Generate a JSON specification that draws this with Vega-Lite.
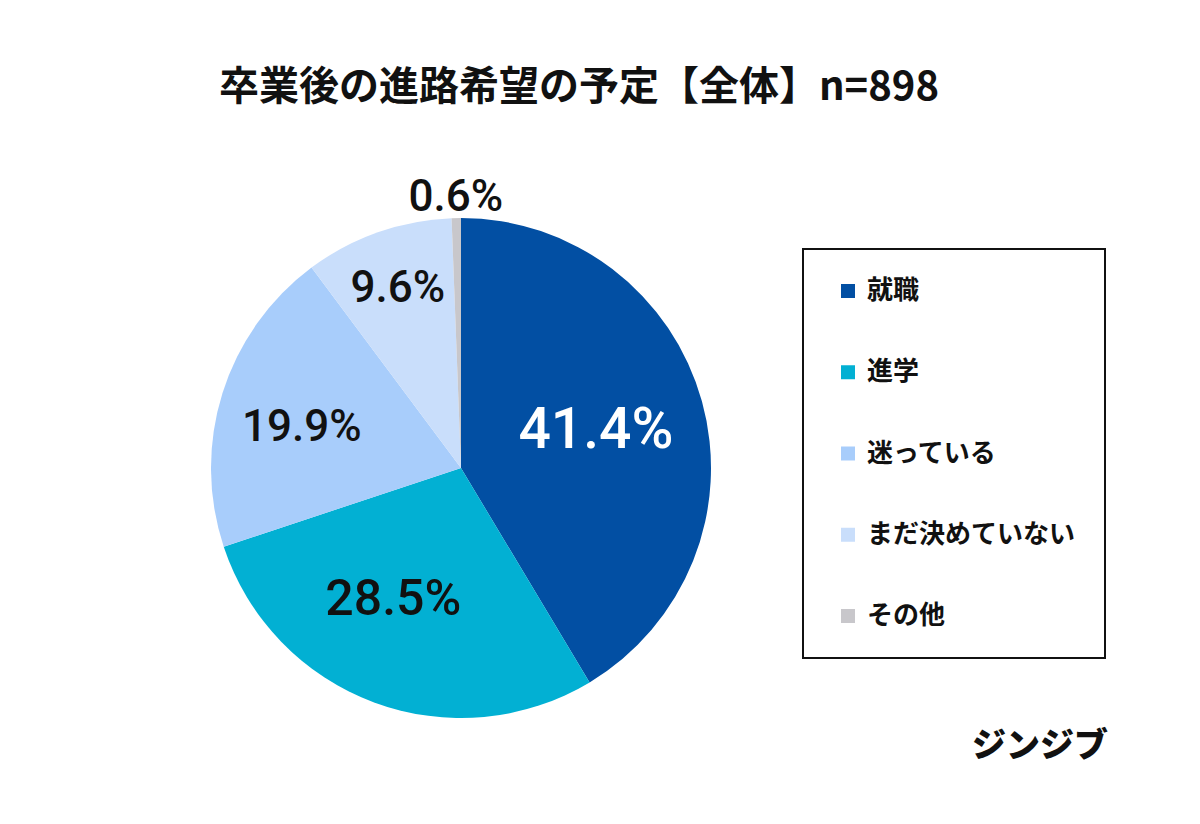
{
  "$schema": "https://vega.github.io/schema/vega-lite/v6.json",
  "width": 500,
  "height": 500,
  "autosize": {"type": "none"},
  "padding": {"left": 211, "top": 218, "right": 489, "bottom": 106},
  "background": "white",
  "title": {
    "text": "卒業後の進路希望の予定【全体】n=898",
    "font": "Noto Sans CJK JP",
    "fontSize": 40,
    "fontWeight": "bold",
    "color": "#111111",
    "anchor": "middle",
    "dx": 118,
    "offset": 68
  },
  "config": {
    "view": {"stroke": null},
    "legend": {
      "orient": "none",
      "legendX": 592,
      "legendY": 31,
      "direction": "vertical",
      "symbolType": "square",
      "symbolSize": 196,
      "symbolStrokeWidth": 0,
      "labelFont": "Noto Sans CJK JP",
      "labelFontSize": 26,
      "labelFontWeight": "bold",
      "labelColor": "#111111",
      "labelOffset": 6,
      "labelLimit": 400,
      "strokeColor": "#111111",
      "strokeWidth": 2,
      "fillColor": "white",
      "padding": 29,
      "symbolOffset": 3,
      "rowPadding": 55.25
    }
  },
  "datasets": {
    "pie": [
      {"cat": "就職", "value": 41.4, "label": "41.4%", "order": 1},
      {"cat": "進学", "value": 28.5, "label": "28.5%", "order": 2},
      {"cat": "迷っている", "value": 19.9, "label": "19.9%", "order": 3},
      {"cat": "まだ決めていない", "value": 9.6, "label": "9.6%", "order": 4},
      {"cat": "その他", "value": 0.6, "label": "0.6%", "order": 5}
    ],
    "brand": [{"t": "ジンジブ"}]
  },
  "layer": [
    {
      "data": {"name": "pie"},
      "mark": {"type": "arc", "outerRadius": 250},
      "encoding": {
        "theta": {"field": "value", "type": "quantitative", "stack": true},
        "order": {"field": "order", "type": "quantitative"},
        "color": {
          "field": "cat",
          "type": "nominal",
          "title": null,
          "scale": {
            "domain": ["就職", "進学", "迷っている", "まだ決めていない", "その他"],
            "range": ["#024FA3", "#02B0D3", "#A8CDFB", "#C9DEFB", "#C8C7CB"]
          }
        }
      }
    },
    {
      "data": {"name": "pie"},
      "mark": {"type": "text", "font": "Roboto", "fontWeight": 500, "fontSize": 57, "radius": 140, "color": "white"},
      "encoding": {
        "theta": {"field": "value", "type": "quantitative", "stack": true},
        "order": {"field": "order", "type": "quantitative"},
        "text": {"condition": {"test": "datum.order !== 1", "value": ""}, "field": "label", "type": "nominal"}
      }
    },
    {
      "data": {"name": "pie"},
      "mark": {"type": "text", "font": "Roboto", "fontWeight": 500, "fontSize": 50, "radius": 148, "thetaOffset": 0.12, "color": "#111111"},
      "encoding": {
        "theta": {"field": "value", "type": "quantitative", "stack": true},
        "order": {"field": "order", "type": "quantitative"},
        "text": {"condition": {"test": "datum.order !== 2", "value": ""}, "field": "label", "type": "nominal"}
      }
    },
    {
      "data": {"name": "pie"},
      "mark": {"type": "text", "font": "Roboto", "fontWeight": 500, "fontSize": 44, "radius": 164, "thetaOffset": -0.06, "color": "#111111"},
      "encoding": {
        "theta": {"field": "value", "type": "quantitative", "stack": true},
        "order": {"field": "order", "type": "quantitative"},
        "text": {"condition": {"test": "datum.order !== 3", "value": ""}, "field": "label", "type": "nominal"}
      }
    },
    {
      "data": {"name": "pie"},
      "mark": {"type": "text", "font": "Roboto", "fontWeight": 500, "fontSize": 44, "radius": 190, "color": "#111111"},
      "encoding": {
        "theta": {"field": "value", "type": "quantitative", "stack": true},
        "order": {"field": "order", "type": "quantitative"},
        "text": {"condition": {"test": "datum.order !== 4", "value": ""}, "field": "label", "type": "nominal"}
      }
    },
    {
      "data": {"name": "pie"},
      "mark": {"type": "text", "font": "Roboto", "fontWeight": 500, "fontSize": 44, "radius": 270, "color": "#111111"},
      "encoding": {
        "theta": {"field": "value", "type": "quantitative", "stack": true},
        "order": {"field": "order", "type": "quantitative"},
        "text": {"condition": {"test": "datum.order !== 5", "value": ""}, "field": "label", "type": "nominal"}
      }
    },
    {
      "data": {"name": "brand"},
      "mark": {"type": "text", "font": "Noto Sans CJK JP", "fontWeight": 900, "fontSize": 34, "align": "center", "baseline": "middle", "x": 829, "y": 529, "color": "#111111"},
      "encoding": {"text": {"field": "t", "type": "nominal"}}
    }
  ]
}
